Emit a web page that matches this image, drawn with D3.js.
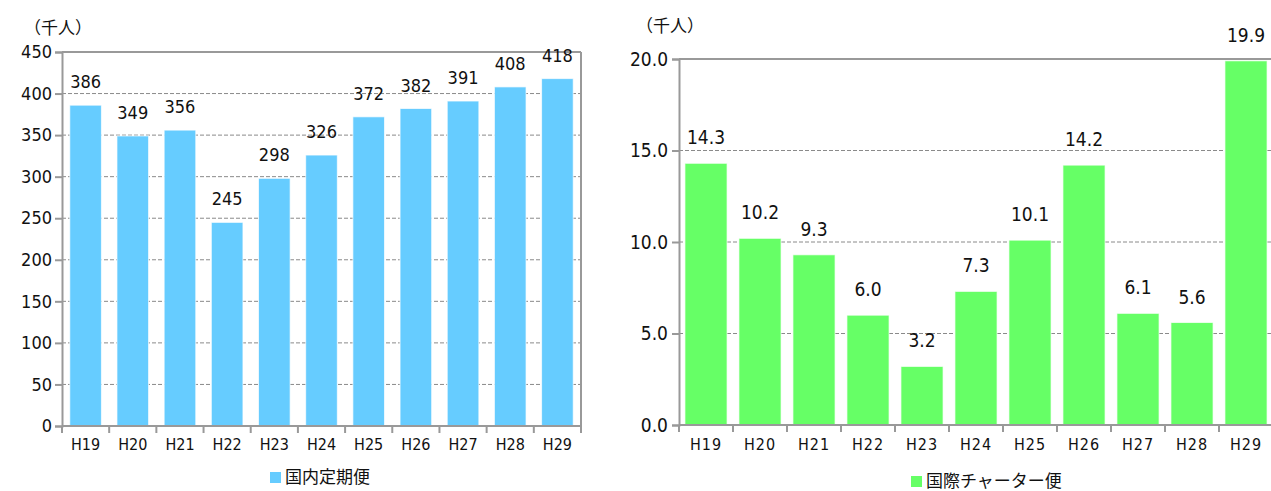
<!DOCTYPE html>
<html><head><meta charset="utf-8">
<script src="https://cdn.jsdelivr.net/npm/d3@7"></script>
<style>
body{margin:0;background:#fff;}
text{fill:#111;}
</style></head>
<body><svg id="c" width="1271" height="491"></svg>
<script>
const categories = ["H19","H20","H21","H22","H23","H24","H25","H26","H27","H28","H29"];
const domesticValues = [386,349,356,245,298,326,372,382,391,408,418];
const charterValues = [14.3,10.2,9.3,6.0,3.2,7.3,10.1,14.2,6.1,5.6,19.9];
const domesticTicks = [0,50,100,150,200,250,300,350,400,450];
const charterTicks = [0,5,10,15,20];
const domesticLabel = "国内定期便";
const charterLabel = "国際チャーター便";
const unitLabel = "（千人）";

const svg = d3.select("#c");
const numFont = "'DejaVu Sans Condensed','DejaVu Sans',sans-serif";
const jpFont = "'Noto Sans CJK JP',sans-serif";

function drawChart(o){
  const g = svg.append("g");
  const x = d3.scaleBand().domain(categories).range([o.x0,o.x1]).paddingInner(o.pad).paddingOuter(o.pad/2);
  const y = d3.scaleLinear().domain([0,o.max]).range([o.y0,o.y1]);
  // gridlines
  g.selectAll(".grid").data(o.ticks.filter(t=>t>0 && t<o.max)).enter().append("line")
    .attr("x1",o.x0).attr("x2",o.x1).attr("y1",d=>y(d)).attr("y2",d=>y(d))
    .attr("stroke","#8a8a8a").attr("stroke-width",1).attr("stroke-dasharray","4,2");
  // top border
  g.append("line").attr("x1",o.x0).attr("x2",o.x1).attr("y1",y(o.max)).attr("y2",y(o.max))
    .attr("stroke","#999").attr("stroke-width",2);
  if(o.rightBorder){
    g.append("line").attr("x1",o.x1).attr("x2",o.x1).attr("y1",y(o.max)).attr("y2",y(0))
      .attr("stroke","#999").attr("stroke-width",2);
  }
  // bars
  g.selectAll(".bar").data(o.values).enter().append("rect")
    .attr("x",(d,i)=>x(categories[i])).attr("width",x.bandwidth())
    .attr("y",d=>y(d)).attr("height",d=>y(0)-y(d))
    .attr("fill",o.color).attr("stroke","rgba(255,255,255,0.7)").attr("stroke-width",1);
  // value labels
  g.selectAll(".vl").data(o.values).enter().append("text")
    .attr("x",(d,i)=>x(categories[i])+x.bandwidth()/2).attr("y",d=>y(d)-o.labelGap)
    .attr("text-anchor","middle").style("font-family",numFont).style("font-size",o.valSize+"px")
    .text(d=>o.fmt(d));
  // y axis
  const ya = d3.axisLeft(y).tickValues(o.ticks).tickFormat(o.tickFmt).tickSize(7).tickPadding(o.yPad);
  const yg = g.append("g").attr("transform",`translate(${o.x0},0)`).call(ya);
  yg.select(".domain").attr("stroke","#999").attr("stroke-width",2);
  yg.selectAll(".tick line").attr("stroke","#999").attr("stroke-width",2);
  yg.selectAll(".tick text").style("font-family",numFont).style("font-size",o.yTickSize+"px").attr("fill","#111");
  // x axis
  const xa = d3.axisBottom(x).tickSize(0).tickPadding(o.xPad);
  const xg = g.append("g").attr("transform",`translate(0,${o.y0})`).call(xa);
  xg.select(".domain").attr("stroke","#999").attr("stroke-width",2).attr("d",`M${o.x0},0H${o.x1}`);
  xg.selectAll(".tick text").style("font-family",numFont).style("font-size",o.xTickSize+"px")
    .style("letter-spacing",o.xSpacing+"px").attr("fill","#222");
  // category separator ticks
  const bounds = d3.range(categories.length+1).map(i=>o.x0+i*x.step());
  g.selectAll(".ct").data(bounds).enter().append("line")
    .attr("x1",d=>d).attr("x2",d=>d).attr("y1",o.y0).attr("y2",o.y0+7)
    .attr("stroke","#999").attr("stroke-width",2);
  // unit label
  g.append("text").attr("x",o.unitX).attr("y",o.unitY).style("font-family",jpFont).style("font-size","17px").text(unitLabel);
  // legend
  g.append("rect").attr("x",o.legX).attr("y",o.legY).attr("width",11).attr("height",11).attr("fill",o.color);
  g.append("text").attr("x",o.legX+15).attr("y",o.legY+11).style("font-family",jpFont).style("font-size","17px").text(o.legend);
}

drawChart({x0:62,x1:581,y0:426,y1:52,max:450,pad:0.33,ticks:domesticTicks,values:domesticValues,
  color:"#66CCFF",rightBorder:true,labelGap:17,valSize:18,fmt:d=>d,tickFmt:d=>d,yPad:3,yTickSize:18,
  xPad:13,xTickSize:16,xSpacing:0,unitX:24,unitY:34,legX:270,legY:472,legend:domesticLabel});

drawChart({x0:679,x1:1273,y0:425,y1:59,max:20,pad:0.22,ticks:charterTicks,values:charterValues,
  color:"#66FF66",rightBorder:false,labelGap:19,valSize:19,fmt:d=>d.toFixed(1),tickFmt:d=>d.toFixed(1),yPad:4,yTickSize:19,
  xPad:14,xTickSize:16,xSpacing:1,unitX:636,unitY:32,legX:911,legY:476,legend:charterLabel});
</script></body></html>
